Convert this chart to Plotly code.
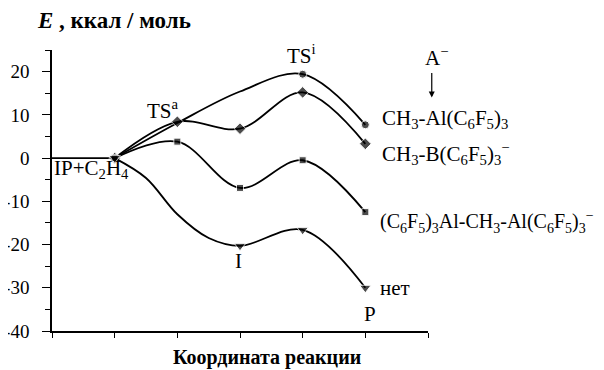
import plotly.graph_objects as go

# координата реакции (узлы) и энергии, ккал/моль
start_x = [0, 1]
start_e = [0, 0]

x_al = [1, 2, 3, 4, 5]
e_al = [0, 8.1, 15.4, 19.4, 7.7]          # CH3-Al(C6F5)3
show_al = [1, 0, 0, 1, 1]
x_b = [1, 2, 3, 4, 5]
e_b = [0, 8.4, 6.8, 15.2, 3.3]            # CH3-B(C6F5)3-
show_b = [1, 1, 1, 1, 1]
x_al2 = [1, 2, 3, 4, 5]
e_al2 = [0, 3.8, -6.9, -0.5, -12.5]       # (C6F5)3Al-CH3-Al(C6F5)3-
show_al2 = [1, 1, 1, 1, 1]
x_net = [1, 1.5, 2, 2.5, 3, 4, 5]
e_net = [0, -4.6, -13.0, -18.5, -20.3, -16.6, -30.0]   # нет
show_net = [1, 0, 0, 0, 1, 1, 1]

y_ticks = [-40, -30, -20, -10, 0, 10, 20]
y_ticktext = ["-40", "-30", "-20", "-10", "0", "10", "20"]

FONT = "Liberation Serif"

fig = go.Figure()

fig.add_trace(go.Scatter(x=start_x, y=start_e, mode="lines",
                         line=dict(color="black", width=1.8), showlegend=False))

series = [
    (x_al, e_al, show_al, "circle", 8),
    (x_b, e_b, show_b, "diamond", 9),
    (x_al2, e_al2, show_al2, "square", 7),
    (x_net, e_net, show_net, "triangle-down", 10),
]
for xs, e, show, sym, size in series:
    fig.add_trace(go.Scatter(
        x=xs, y=e, mode="lines+markers",
        line=dict(color="black", width=1.8, shape="spline", smoothing=1),
        marker=dict(symbol=sym, color="black", size=[size * s for s in show]),
        showlegend=False, cliponaxis=False,
    ))

# подписи
def label(text, x, y, size=21, xanchor="left", yanchor="middle", ref="x"):
    fig.add_annotation(x=x, y=y, xref=ref, yref=ref.replace("x", "y"), text=text,
                       showarrow=False, xanchor=xanchor, yanchor=yanchor,
                       font=dict(family=FONT, size=size, color="black"))

label("IP+C<sub>2</sub>H<sub>4</sub>", 0.0, -2.6)
label("TS<sup>a</sup>", 1.48, 11.2)
label("TS<sup>i</sup>", 3.72, 24.0)
label("A<sup>\u2212</sup>", 5.92, 23.5)
label("CH<sub>3</sub>-Al(C<sub>6</sub>F<sub>5</sub>)<sub>3</sub>", 5.23, 9.0)
label("CH<sub>3</sub>-B(C<sub>6</sub>F<sub>5</sub>)<sub>3</sub><sup>\u2212</sup>", 5.24, 1.0)
label("(C<sub>6</sub>F<sub>5</sub>)<sub>3</sub>Al-CH<sub>3</sub>-Al(C<sub>6</sub>F<sub>5</sub>)<sub>3</sub><sup>\u2212</sup>",
      5.2, -14.8, size=20)
label("нет", 5.2, -30.1)
label("P", 5.08, -36.1, xanchor="center")
label("I", 2.97, -23.8, xanchor="center")

# стрелка A- -> CH3-Al(C6F5)3
fig.add_annotation(x=1.01, y=0.831, xref="paper", yref="paper",
                   ax=0, ay=-26, axref="pixel", ayref="pixel", text="", showarrow=True,
                   arrowhead=2, arrowsize=1, arrowwidth=1.2, arrowcolor="black")

label("<b><i>E</i> , ккал / моль</b>", -0.045, 1.105, size=23, ref="paper")
label("<b>Координата реакции</b>", 0.572, -0.094, size=20, xanchor="center", ref="paper")

fig.update_xaxes(range=[0, 6], tickvals=[0, 1, 2, 3, 4, 5, 6], showticklabels=False,
                 ticks="outside", ticklen=5, tickwidth=1.2, tickcolor="black",
                 showline=True, linecolor="black", linewidth=1.5,
                 showgrid=False, zeroline=False, automargin=False)
fig.update_yaxes(range=[-40, 25], tickvals=y_ticks, ticktext=y_ticktext,
                 ticks="outside", ticklen=8, tickwidth=1.2, tickcolor="black",
                 ticklabelstandoff=9,
                 minor=dict(dtick=5, tick0=0, ticks="outside", ticklen=5,
                            tickwidth=1.2, tickcolor="black", showgrid=False),
                 showline=True, linecolor="black", linewidth=1.5,
                 showgrid=False, zeroline=False, automargin=False,
                 tickfont=dict(family=FONT, size=19, color="black"))

fig.update_layout(width=596, height=362, margin=dict(l=44, r=176, t=42, b=39),
                  plot_bgcolor="white", paper_bgcolor="white", showlegend=False)

fig.write_html("out.html")
